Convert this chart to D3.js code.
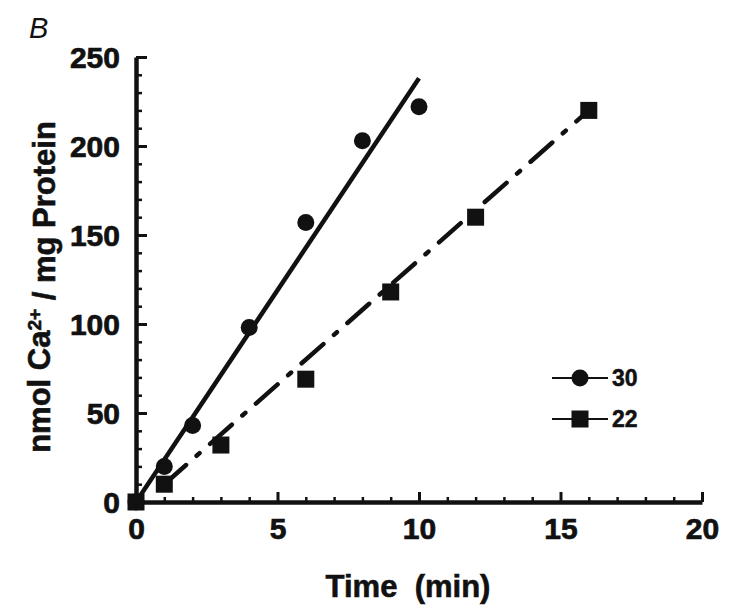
<!DOCTYPE html>
<html>
<head>
<meta charset="utf-8">
<script src="https://cdn.jsdelivr.net/npm/d3@7"></script>
<style>
  body { margin: 0; background: #fff; }
  text { font-family: "Liberation Sans", Arial, sans-serif; fill: #111; }
</style>
</head>
<body>
<div id="chart-area"></div>
<script>
// data
const time30 = [0, 1, 2, 4, 6, 8, 10];
const ca30   = [0, 20, 43, 98, 157, 203, 222];
const time22 = [0, 1, 3, 6, 9, 12, 16];
const ca22   = [0, 10, 32, 69, 118, 160, 220];
// fitted lines (end points)
const fit30 = [[0, 0], [10, 238]];
const fit22 = [[1, 10], [16, 220]];
const xTicks = [0, 5, 10, 15, 20];
const yTicks = [0, 50, 100, 150, 200, 250];
const legendLabels = ["30", "22"];

let margin = {top: 57, right: 48, bottom: 114, left: 136},
  width = 750 - margin.left - margin.right,
  height = 616 - margin.top - margin.bottom;

let svg = d3.select("#chart-area")
  .append("svg")
  .attr("width", 750)
  .attr("height", 616);

let g = svg.append("g")
  .attr("transform", "translate(" + margin.left + "," + margin.top + ")");

let x = d3.scaleLinear().domain([0, 20]).range([0, width]);
let y = d3.scaleLinear().domain([0, 250]).range([height, 0]);

let ink = "#111";

// minor ticks
let xMinor = d3.range(0, 21).filter(d => d % 5 !== 0);
let yMinor = d3.range(0, 251, 10).filter(d => d % 50 !== 0);

g.append("g")
  .attr("transform", "translate(0," + height + ")")
  .call(d3.axisBottom(x).tickValues(xMinor).tickSize(-5).tickFormat(""))
  .call(a => a.select(".domain").remove())
  .call(a => a.selectAll("line").attr("stroke", ink).attr("stroke-width", 2.5));

g.append("g")
  .call(d3.axisLeft(y).tickValues(yMinor).tickSize(-6).tickFormat(""))
  .call(a => a.select(".domain").remove())
  .call(a => a.selectAll("line").attr("stroke", ink).attr("stroke-width", 2.5));

// major axes
let xAxisGroup = g.append("g")
  .attr("transform", "translate(0," + height + ")")
  .call(d3.axisBottom(x).tickValues(xTicks).tickSize(-10).tickSizeOuter(0).tickPadding(16));

let yAxisGroup = g.append("g")
  .call(d3.axisLeft(y).tickValues(yTicks).tickSize(-11).tickSizeOuter(0).tickPadding(16));

[xAxisGroup, yAxisGroup].forEach(a => {
  a.select(".domain").attr("stroke", ink).attr("stroke-width", 4.5);
  a.selectAll(".tick line").attr("stroke", ink).attr("stroke-width", 3);
  a.selectAll(".tick text")
    .attr("fill", ink)
    .attr("stroke", ink)
    .attr("stroke-width", 0.7)
    .style("font-size", "30px")
    .style("font-weight", "bold")
    .style("font-family", "'Liberation Sans', Arial, sans-serif");
});
yAxisGroup.selectAll(".tick text").attr("dy", "0.36em");

// fit lines
let line = d3.line().x(d => x(d[0])).y(d => y(d[1]));

g.append("path")
  .datum(fit30)
  .attr("d", line)
  .attr("fill", "none")
  .attr("stroke", ink)
  .attr("stroke-width", 4.5);

g.append("path")
  .datum(fit22)
  .attr("d", line)
  .attr("fill", "none")
  .attr("stroke", ink)
  .attr("stroke-width", 4.5)
  .attr("stroke-linecap", "round")
  .attr("stroke-dasharray", "29,14,4,14");

// markers
let pts30 = time30.map((t, i) => ({t: t, v: ca30[i]}));
let pts22 = time22.map((t, i) => ({t: t, v: ca22[i]}));
let sq = 17;

g.selectAll(".dot30")
  .data(pts30)
  .enter()
  .append("circle")
  .attr("class", "dot30")
  .attr("cx", d => x(d.t))
  .attr("cy", d => y(d.v))
  .attr("r", 8.5)
  .attr("fill", ink);

g.selectAll(".sq22")
  .data(pts22)
  .enter()
  .append("rect")
  .attr("class", "sq22")
  .attr("x", d => x(d.t) - sq / 2)
  .attr("y", d => y(d.v) - sq / 2)
  .attr("width", sq)
  .attr("height", sq)
  .attr("fill", ink);

// legend
let legend = svg.append("g").attr("transform", "translate(552,378)");
legendLabels.forEach((lab, i) => {
  let row = legend.append("g").attr("transform", "translate(0," + (i * 41) + ")");
  row.append("line")
    .attr("x1", 0).attr("x2", 56)
    .attr("y1", 0).attr("y2", 0)
    .attr("stroke", ink)
    .attr("stroke-width", 2);
  if (i === 0) {
    row.append("circle").attr("cx", 28).attr("cy", 0).attr("r", 8.5).attr("fill", ink);
  } else {
    row.append("rect").attr("x", 28 - sq / 2).attr("y", -sq / 2)
      .attr("width", sq).attr("height", sq).attr("fill", ink);
  }
  row.append("text")
    .attr("x", 60)
    .attr("y", 8)
    .attr("stroke", ink)
    .attr("stroke-width", 0.5)
    .style("font-size", "23px")
    .style("font-weight", "bold")
    .text(lab);
});

// axis titles
svg.append("text")
  .attr("x", 408)
  .attr("y", 597)
  .attr("stroke", ink)
  .attr("stroke-width", 0.6)
  .style("text-anchor", "middle")
  .style("font-size", "31px")
  .style("font-weight", "bold")
  .style("white-space", "pre")
  .text("Time  (min)");

let yTitle = svg.append("text")
  .attr("transform", "translate(50,287) rotate(-90)")
  .attr("stroke", ink)
  .attr("stroke-width", 0.6)
  .style("text-anchor", "middle")
  .style("font-size", "31px")
  .style("font-weight", "bold");
yTitle.append("tspan").text("nmol Ca");
yTitle.append("tspan").attr("dy", "-0.45em").style("font-size", "19px").text("2+");
yTitle.append("tspan").attr("dy", "0.45em").text(" / mg Protein");

// panel letter
svg.append("text")
  .attr("x", 29)
  .attr("y", 38)
  .style("font-size", "29px")
  .style("font-style", "italic")
  .text("B");
</script>
</body>
</html>
